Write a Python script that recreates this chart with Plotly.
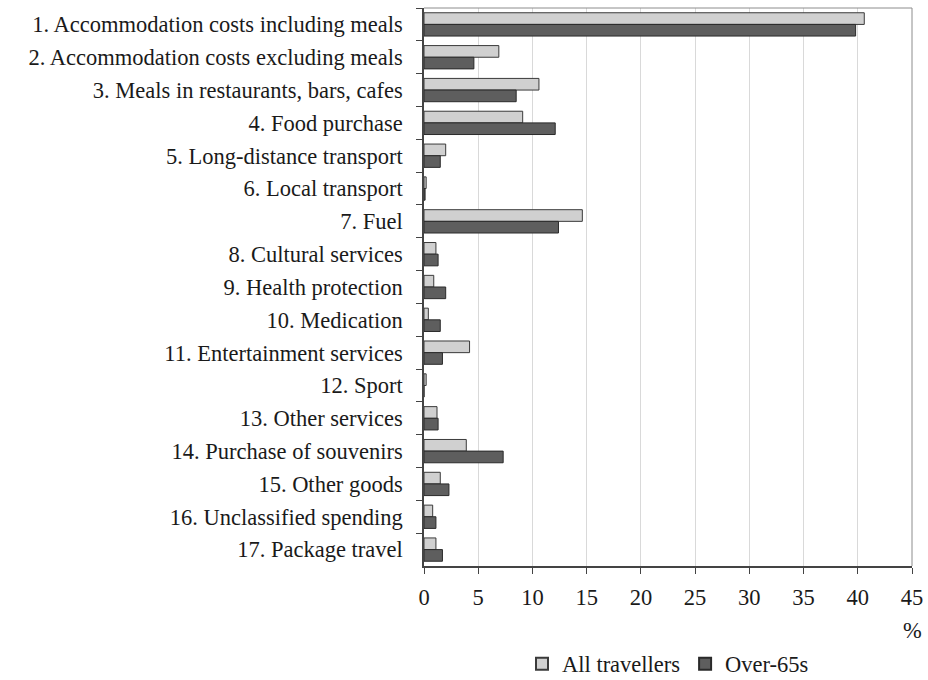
import plotly.graph_objects as go

categories = [
    "1. Accommodation costs including meals",
    "2. Accommodation costs excluding meals",
    "3. Meals in restaurants, bars, cafes",
    "4. Food purchase",
    "5. Long-distance transport",
    "6. Local transport",
    "7. Fuel",
    "8. Cultural services",
    "9. Health protection",
    "10. Medication",
    "11. Entertainment services",
    "12. Sport",
    "13. Other services",
    "14. Purchase of souvenirs",
    "15. Other goods",
    "16. Unclassified spending",
    "17. Package travel",
]
all_travellers = [40.6, 6.9, 10.6, 9.1, 2.0, 0.2, 14.6, 1.1, 0.9, 0.4, 4.2, 0.2, 1.2, 3.9, 1.5, 0.8, 1.1]
over_65s = [39.8, 4.6, 8.5, 12.1, 1.5, 0.1, 12.4, 1.3, 2.0, 1.5, 1.7, 0.0, 1.3, 7.3, 2.3, 1.1, 1.7]
x_ticks = [0, 5, 10, 15, 20, 25, 30, 35, 40, 45]

FONT = "Liberation Serif"
FS = 22.5

fig = go.Figure()
fig.add_trace(go.Bar(
    y=categories, x=all_travellers, orientation="h", name="All travellers",
    marker=dict(color="#d0d0d0", line=dict(color="#3a3a3a", width=1)),
))
fig.add_trace(go.Bar(
    y=categories, x=over_65s, orientation="h", name="Over-65s",
    marker=dict(color="#5e5e5e", line=dict(color="#2a2a2a", width=1)),
))

fig.update_layout(
    width=928, height=680,
    margin=dict(l=424, r=16, t=8, b=114),
    paper_bgcolor="white", plot_bgcolor="white",
    barmode="group", bargap=0.29, bargroupgap=0,
    font=dict(family=FONT, size=FS, color="#1a1a1a"),
    showlegend=True,
    legend=dict(orientation="h", x=0.5, xanchor="center", xref="paper",
                y=0.0235, yanchor="middle", yref="container",
                font=dict(family=FONT, size=FS), traceorder="normal",
                itemwidth=30, itemsizing="constant"),
    xaxis=dict(range=[0, 45], tickvals=x_ticks, showgrid=True, gridcolor="#d9d9d9", gridwidth=1,
               showline=True, linecolor="#444444", linewidth=1.5,
               ticks="outside", ticklen=6, tickcolor="#444444", zeroline=False,
               ticklabelstandoff=4, ticklabeloverflow="allow", automargin=False,
               tickfont=dict(family=FONT, size=FS)),
    yaxis=dict(autorange="reversed", showline=True, linecolor="#444444", linewidth=1.5,
               ticks="outside", ticklen=6, tickcolor="#444444", tickson="boundaries",
               showgrid=False, ticklabelstandoff=15, automargin=False,
               tickfont=dict(family=FONT, size=FS)),
    shapes=[
        dict(type="line", xref="paper", yref="paper", x0=0, x1=1, y0=1, y1=1,
             line=dict(color="#8c8c8c", width=1)),
        dict(type="line", xref="paper", yref="paper", x0=1, x1=1, y0=0, y1=1,
             line=dict(color="#8c8c8c", width=1)),
    ],
    annotations=[
        dict(text="%", xref="paper", yref="paper", x=1, y=-0.115, xanchor="center",
             yanchor="middle", showarrow=False, font=dict(family=FONT, size=FS)),
    ],
)

fig.write_html(
    "out.html",
    config={"displayModeBar": False},
    post_script="document.body.style.margin='0';document.body.style.overflow='hidden';",
)
